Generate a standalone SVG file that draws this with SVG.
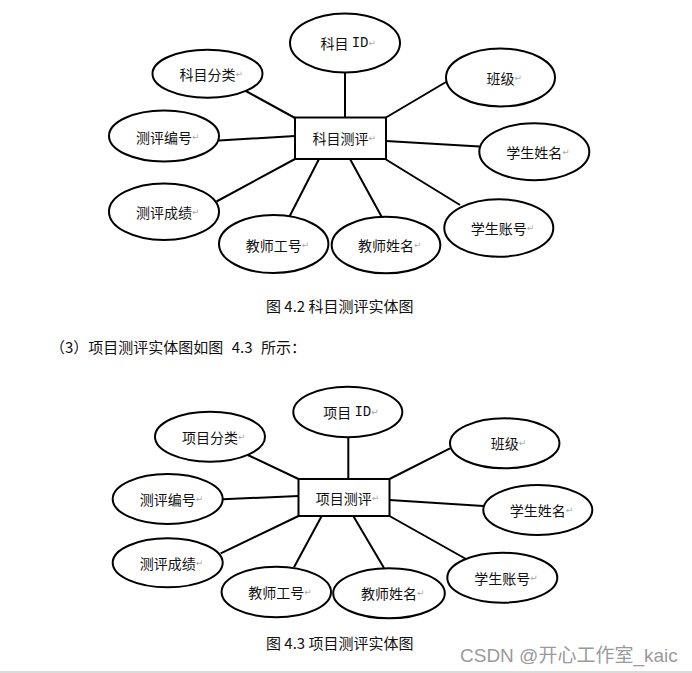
<svg xmlns="http://www.w3.org/2000/svg" width="692" height="673" viewBox="0 0 692 673">
<style>
.n ellipse,.n rect{fill:#fff;stroke:#000;stroke-width:2}
.c line{stroke:#000;stroke-width:2}
text{font-family:"Noto Sans CJK SC","Noto Sans",sans-serif;font-size:14px;fill:#111;dominant-baseline:central}
.m{font-family:"Liberation Mono",monospace}
.r{font-family:"DejaVu Sans",sans-serif;font-size:9px;fill:#aaa}
.cap{font-size:15px}
.wm{font-family:"Liberation Sans","Noto Sans CJK SC",sans-serif;font-size:19px;fill:#9a9a9a}
</style>
<rect width="692" height="673" fill="#fff"/>
<g id="connectors1" class="c">
<line x1="244" y1="90" x2="295" y2="118"/>
<line x1="219" y1="140.5" x2="295" y2="136"/>
<line x1="216.5" y1="201.5" x2="295" y2="159"/>
<line x1="289.5" y1="216.5" x2="319" y2="159"/>
<line x1="345" y1="72" x2="345" y2="118"/>
<line x1="386" y1="117.5" x2="446" y2="82"/>
<line x1="386" y1="141" x2="479.5" y2="146.5"/>
<line x1="386" y1="159.5" x2="460" y2="205"/>
<line x1="350" y1="159" x2="381.5" y2="216.5"/>
</g>
<g id="e1_kmfl" class="n"><ellipse cx="207.5" cy="73.7" rx="55" ry="24"/><text x="179.5" y="73.7">科目分类<tspan class="r">↵</tspan></text></g>
<g id="e1_kmid" class="n"><ellipse cx="345" cy="43" rx="55" ry="29.5"/><text x="320.5" y="43">科目 <tspan class="m">ID</tspan><tspan class="r">↵</tspan></text></g>
<g id="e1_bj" class="n"><ellipse cx="500.5" cy="77.5" rx="54.5" ry="29"/><text x="486.5" y="78">班级<tspan class="r">↵</tspan></text></g>
<g id="e1_xsxm" class="n"><ellipse cx="534.3" cy="151.7" rx="55" ry="28.5"/><text x="506.3" y="152">学生姓名<tspan class="r">↵</tspan></text></g>
<g id="e1_xszh" class="n"><ellipse cx="498.8" cy="228" rx="54.5" ry="28.7"/><text x="470.8" y="228">学生账号<tspan class="r">↵</tspan></text></g>
<g id="e1_jsxm" class="n"><ellipse cx="386" cy="245" rx="54.3" ry="28.3"/><text x="358" y="245">教师姓名<tspan class="r">↵</tspan></text></g>
<g id="e1_jsgh" class="n"><ellipse cx="273.7" cy="244" rx="54.7" ry="29"/><text x="245.7" y="244.5">教师工号<tspan class="r">↵</tspan></text></g>
<g id="e1_pccj" class="n"><ellipse cx="164" cy="211.7" rx="55" ry="28.3"/><text x="136" y="211.7">测评成绩<tspan class="r">↵</tspan></text></g>
<g id="e1_pcbh" class="n"><ellipse cx="164" cy="136" rx="55" ry="25.5"/><text x="136" y="136.5">测评编号<tspan class="r">↵</tspan></text></g>
<g id="r1_kmpc" class="n"><rect x="295" y="117.5" width="91" height="41.5"/><text x="312.5" y="138.3">科目测评<tspan class="r">↵</tspan></text></g>
<text class="cap" x="266" y="305">图 4.2 科目测评实体图</text>
<text class="cap" x="50" y="346">（3）项目测评实体图如图<tspan dx="5"> 4.3 </tspan><tspan dx="5">所示：</tspan></text>
<g id="connectors2" class="c">
<line x1="247.7" y1="455" x2="298.5" y2="479"/>
<line x1="222.7" y1="499.3" x2="298.5" y2="496"/>
<line x1="220.7" y1="553.3" x2="298.5" y2="516"/>
<line x1="294" y1="567.3" x2="321.7" y2="516"/>
<line x1="348.3" y1="437.3" x2="348.3" y2="479"/>
<line x1="389.5" y1="479" x2="450" y2="448.3"/>
<line x1="389.5" y1="500" x2="483.3" y2="506"/>
<line x1="389.5" y1="516" x2="466" y2="559"/>
<line x1="353.3" y1="516" x2="384" y2="568"/>
</g>
<g id="e2_xmfl" class="n"><ellipse cx="210" cy="436.7" rx="55" ry="25"/><text x="182" y="436.7">项目分类<tspan class="r">↵</tspan></text></g>
<g id="e2_xmid" class="n"><ellipse cx="347.8" cy="412" rx="54.5" ry="25.3"/><text x="323.3" y="412.3">项目 <tspan class="m">ID</tspan><tspan class="r">↵</tspan></text></g>
<g id="e2_bj" class="n"><ellipse cx="504.7" cy="443.3" rx="54.7" ry="25"/><text x="490.7" y="443.3">班级<tspan class="r">↵</tspan></text></g>
<g id="e2_xsxm" class="n"><ellipse cx="537.8" cy="510" rx="54.5" ry="25"/><text x="509.8" y="510">学生姓名<tspan class="r">↵</tspan></text></g>
<g id="e2_xszh" class="n"><ellipse cx="502.3" cy="577.7" rx="55" ry="25"/><text x="474.3" y="578">学生账号<tspan class="r">↵</tspan></text></g>
<g id="e2_jsxm" class="n"><ellipse cx="389" cy="593.3" rx="55.8" ry="25"/><text x="361" y="592.5">教师姓名<tspan class="r">↵</tspan></text></g>
<g id="e2_jsgh" class="n"><ellipse cx="276.3" cy="592" rx="54.7" ry="25.3"/><text x="248.3" y="592">教师工号<tspan class="r">↵</tspan></text></g>
<g id="e2_pccj" class="n"><ellipse cx="167.7" cy="562.8" rx="55" ry="24.5"/><text x="139.7" y="562.8">测评成绩<tspan class="r">↵</tspan></text></g>
<g id="e2_pcbh" class="n"><ellipse cx="167.7" cy="499" rx="55" ry="25"/><text x="139.7" y="498.7">测评编号<tspan class="r">↵</tspan></text></g>
<g id="r2_xmpc" class="n"><rect x="298.5" y="479" width="91" height="37"/><text x="315.8" y="497.5">项目测评<tspan class="r">↵</tspan></text></g>
<text class="cap" x="266" y="642">图 4.3 项目测评实体图</text>
<text class="wm" x="460" y="655">CSDN @开心工作室_kaic</text>
<line x1="0" y1="672" x2="692" y2="672" stroke="#cfcfcf" stroke-width="1.5"/>
</svg>
